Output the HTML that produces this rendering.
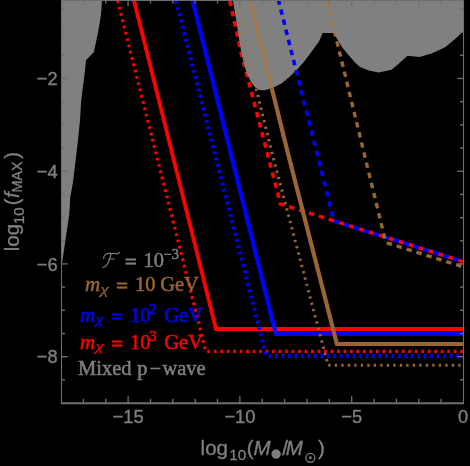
<!DOCTYPE html>
<html><head><meta charset="utf-8"><title>plot</title>
<style>html,body{margin:0;padding:0;background:#000;}svg{display:block;will-change:transform;}text{font-family:"Liberation Sans",sans-serif;}.sf{font-family:"Liberation Serif",serif;}</style></head>
<body>
<svg width="470" height="466" viewBox="0 0 470 466">
<rect x="0" y="0" width="470" height="466" fill="#000"/>
<defs><clipPath id="plot"><rect x="61" y="0" width="403" height="403"/></clipPath>
<clipPath id="gclip"><polygon points="232.9,0.0 237.7,30.0 240.9,50.0 243.5,62.0 246.7,73.2 251.2,82.2 255.1,87.3 259.6,89.9 264.8,90.2 272.5,88.0 281.5,83.5 290.0,76.4 299.0,67.5 305.0,60.5 310.4,53.3 319.0,41.5 322.7,33.0 334.0,33.0 337.2,39.3 342.6,47.9 347.9,54.3 355.0,62.4 360.0,67.0 368.7,70.6 378.6,72.5 391.5,69.7 397.9,64.4 407.6,55.8 419.4,56.9 432.2,53.2 445.1,47.2 455.8,38.6 463.5,31.0 464.0,31.0 464.0,0.0"/></clipPath>
<clipPath id="nogray"><path clip-rule="evenodd" d="M0,-5H470V470H0Z M232.9,0.0 L237.7,30.0 L240.9,50.0 L243.5,62.0 L246.7,73.2 L251.2,82.2 L255.1,87.3 L259.6,89.9 L264.8,90.2 L272.5,88.0 L281.5,83.5 L290.0,76.4 L299.0,67.5 L305.0,60.5 L310.4,53.3 L319.0,41.5 L322.7,33.0 L334.0,33.0 L337.2,39.3 L342.6,47.9 L347.9,54.3 L355.0,62.4 L360.0,67.0 L368.7,70.6 L378.6,72.5 L391.5,69.7 L397.9,64.4 L407.6,55.8 L419.4,56.9 L432.2,53.2 L445.1,47.2 L455.8,38.6 L463.5,31.0 L464.0,31.0 L464.0,0.0Z"/></clipPath></defs>
<polygon points="61.0,0.0 102.0,0.0 101.3,11.6 100.3,19.3 98.1,32.2 95.9,42.5 94.0,51.5 93.6,52.6 86.3,59.7 85.9,61.6 84.4,75.7 82.7,88.6 81.1,101.5 80.1,119.3 78.2,138.6 75.3,162.9 73.0,182.2 70.2,197.6 69.4,212.9 66.6,232.2 63.8,251.5 62.5,260.0 61.5,266.0 61.0,266.0" fill="#808080"/>
<g clip-path="url(#plot)" fill="none" stroke-linejoin="miter">
<polyline points="133.6,-1.0 216.0,329.0 470.0,329.0" stroke="#ff0000" stroke-width="3.8"/>
<polyline points="117.2,-1.0 205.8,351.4 463.5,351.4" stroke="#ff0000" stroke-width="3.2" stroke-dasharray="2.7 3.786" stroke-dashoffset="-1.6"/>
<polyline points="229.4,-1.0 241.5,54.0 280.5,204.0 463.5,261.8" stroke="#ff0000" stroke-width="3.6" stroke-dasharray="5.5 4.9" stroke-dashoffset="8.5"/>
<polygon points="232.9,0.0 237.7,30.0 240.9,50.0 243.5,62.0 246.7,73.2 251.2,82.2 255.1,87.3 259.6,89.9 264.8,90.2 272.5,88.0 281.5,83.5 290.0,76.4 299.0,67.5 305.0,60.5 310.4,53.3 319.0,41.5 322.7,33.0 334.0,33.0 337.2,39.3 342.6,47.9 347.9,54.3 355.0,62.4 360.0,67.0 368.7,70.6 378.6,72.5 391.5,69.7 397.9,64.4 407.6,55.8 419.4,56.9 432.2,53.2 445.1,47.2 455.8,38.6 463.5,31.0 464.0,31.0 464.0,0.0" fill="#808080"/>
<polyline points="192.2,-1.0 275.8,333.8 470.0,333.8" stroke="#0000ff" stroke-width="4.2"/>
<polyline points="175.5,-1.0 266.3,356.1 463.5,356.1" stroke="#0000ff" stroke-width="4.1" stroke-dasharray="2.6 3.868" stroke-dashoffset="-2.1"/>
<polyline points="278.2,-1.0 334.0,221.0 463.5,261.8" stroke="#0000ff" stroke-width="3.6" stroke-dasharray="5.5 4.9" stroke-dashoffset="10.0"/>
<g clip-path="url(#nogray)">
<polyline points="249.6,-1.0 287.6,152.0 336.9,344.0 470.0,344.0" stroke="#996633" stroke-width="4.2"/>
<polyline points="235.6,-1.0 240.1,19.7 253.3,77.0 272.0,153.0 328.1,365.3 461.0,365.3" stroke="#996633" stroke-width="3.0" stroke-dasharray="2.3 4.2" stroke-dashoffset="-1"/>
<polyline points="326.6,-1.0 385.8,242.5 463.5,267.0" stroke="#996633" stroke-width="3.4" stroke-dasharray="5.5 4.9" stroke-dashoffset="8.5"/>
</g>
<g clip-path="url(#gclip)">
<polyline points="249.6,-1.0 287.6,152.0 336.9,344.0 470.0,344.0" stroke="#ab7841" stroke-width="2.7"/>
<polyline points="235.6,-1.0 240.1,19.7 253.3,77.0 272.0,153.0 328.1,365.3 461.0,365.3" stroke="#ab7841" stroke-width="1.9" stroke-dasharray="2.2 4.3" stroke-dashoffset="-1"/>
<polyline points="326.6,-1.0 385.8,242.5 463.5,267.0" stroke="#ab7841" stroke-width="2.5" stroke-dasharray="5.5 4.9" stroke-dashoffset="8.5"/>
</g>
</g>
<g stroke="#6e6e6e" fill="none">
<line x1="61.5" y1="0" x2="61.5" y2="404" stroke-width="1.1"/>
<line x1="463.5" y1="0" x2="463.5" y2="404" stroke-width="1.1"/>
<line x1="61" y1="403.2" x2="464" y2="403.2" stroke-width="2.1"/>
<line x1="61" y1="0.3" x2="464" y2="0.3" stroke-width="1.2"/>
<line x1="83.4" y1="403" x2="83.4" y2="398.8" stroke-width="1.35"/>
<line x1="83.4" y1="0" x2="83.4" y2="3.4" stroke-width="1.35"/>
<line x1="105.7" y1="403" x2="105.7" y2="398.8" stroke-width="1.35"/>
<line x1="105.7" y1="0" x2="105.7" y2="3.4" stroke-width="1.35"/>
<line x1="128.1" y1="403" x2="128.1" y2="396.2" stroke-width="1.35"/>
<line x1="128.1" y1="0" x2="128.1" y2="6.0" stroke-width="1.35"/>
<line x1="150.5" y1="403" x2="150.5" y2="398.8" stroke-width="1.35"/>
<line x1="150.5" y1="0" x2="150.5" y2="3.4" stroke-width="1.35"/>
<line x1="172.8" y1="403" x2="172.8" y2="398.8" stroke-width="1.35"/>
<line x1="172.8" y1="0" x2="172.8" y2="3.4" stroke-width="1.35"/>
<line x1="195.2" y1="403" x2="195.2" y2="398.8" stroke-width="1.35"/>
<line x1="195.2" y1="0" x2="195.2" y2="3.4" stroke-width="1.35"/>
<line x1="217.5" y1="403" x2="217.5" y2="398.8" stroke-width="1.35"/>
<line x1="217.5" y1="0" x2="217.5" y2="3.4" stroke-width="1.35"/>
<line x1="239.9" y1="403" x2="239.9" y2="396.2" stroke-width="1.35"/>
<line x1="239.9" y1="0" x2="239.9" y2="6.0" stroke-width="1.35"/>
<line x1="262.3" y1="403" x2="262.3" y2="398.8" stroke-width="1.35"/>
<line x1="262.3" y1="0" x2="262.3" y2="3.4" stroke-width="1.35"/>
<line x1="284.6" y1="403" x2="284.6" y2="398.8" stroke-width="1.35"/>
<line x1="284.6" y1="0" x2="284.6" y2="3.4" stroke-width="1.35"/>
<line x1="307.0" y1="403" x2="307.0" y2="398.8" stroke-width="1.35"/>
<line x1="307.0" y1="0" x2="307.0" y2="3.4" stroke-width="1.35"/>
<line x1="329.3" y1="403" x2="329.3" y2="398.8" stroke-width="1.35"/>
<line x1="329.3" y1="0" x2="329.3" y2="3.4" stroke-width="1.35"/>
<line x1="351.7" y1="403" x2="351.7" y2="396.2" stroke-width="1.35"/>
<line x1="351.7" y1="0" x2="351.7" y2="6.0" stroke-width="1.35"/>
<line x1="374.1" y1="403" x2="374.1" y2="398.8" stroke-width="1.35"/>
<line x1="374.1" y1="0" x2="374.1" y2="3.4" stroke-width="1.35"/>
<line x1="396.4" y1="403" x2="396.4" y2="398.8" stroke-width="1.35"/>
<line x1="396.4" y1="0" x2="396.4" y2="3.4" stroke-width="1.35"/>
<line x1="418.8" y1="403" x2="418.8" y2="398.8" stroke-width="1.35"/>
<line x1="418.8" y1="0" x2="418.8" y2="3.4" stroke-width="1.35"/>
<line x1="441.1" y1="403" x2="441.1" y2="398.8" stroke-width="1.35"/>
<line x1="441.1" y1="0" x2="441.1" y2="3.4" stroke-width="1.35"/>
<line x1="61" y1="9.0" x2="65.0" y2="9.0" stroke-width="1.35"/>
<line x1="464" y1="9.0" x2="460.0" y2="9.0" stroke-width="1.35"/>
<line x1="61" y1="32.1" x2="65.0" y2="32.1" stroke-width="1.35"/>
<line x1="464" y1="32.1" x2="460.0" y2="32.1" stroke-width="1.35"/>
<line x1="61" y1="55.3" x2="65.0" y2="55.3" stroke-width="1.35"/>
<line x1="464" y1="55.3" x2="460.0" y2="55.3" stroke-width="1.35"/>
<line x1="61" y1="78.5" x2="67.6" y2="78.5" stroke-width="1.35"/>
<line x1="464" y1="78.5" x2="457.4" y2="78.5" stroke-width="1.35"/>
<line x1="61" y1="101.7" x2="65.0" y2="101.7" stroke-width="1.35"/>
<line x1="464" y1="101.7" x2="460.0" y2="101.7" stroke-width="1.35"/>
<line x1="61" y1="124.9" x2="65.0" y2="124.9" stroke-width="1.35"/>
<line x1="464" y1="124.9" x2="460.0" y2="124.9" stroke-width="1.35"/>
<line x1="61" y1="148.0" x2="65.0" y2="148.0" stroke-width="1.35"/>
<line x1="464" y1="148.0" x2="460.0" y2="148.0" stroke-width="1.35"/>
<line x1="61" y1="171.2" x2="67.6" y2="171.2" stroke-width="1.35"/>
<line x1="464" y1="171.2" x2="457.4" y2="171.2" stroke-width="1.35"/>
<line x1="61" y1="194.4" x2="65.0" y2="194.4" stroke-width="1.35"/>
<line x1="464" y1="194.4" x2="460.0" y2="194.4" stroke-width="1.35"/>
<line x1="61" y1="217.6" x2="65.0" y2="217.6" stroke-width="1.35"/>
<line x1="464" y1="217.6" x2="460.0" y2="217.6" stroke-width="1.35"/>
<line x1="61" y1="240.8" x2="65.0" y2="240.8" stroke-width="1.35"/>
<line x1="464" y1="240.8" x2="460.0" y2="240.8" stroke-width="1.35"/>
<line x1="61" y1="263.9" x2="67.6" y2="263.9" stroke-width="1.35"/>
<line x1="464" y1="263.9" x2="457.4" y2="263.9" stroke-width="1.35"/>
<line x1="61" y1="287.1" x2="65.0" y2="287.1" stroke-width="1.35"/>
<line x1="464" y1="287.1" x2="460.0" y2="287.1" stroke-width="1.35"/>
<line x1="61" y1="310.3" x2="65.0" y2="310.3" stroke-width="1.35"/>
<line x1="464" y1="310.3" x2="460.0" y2="310.3" stroke-width="1.35"/>
<line x1="61" y1="333.5" x2="65.0" y2="333.5" stroke-width="1.35"/>
<line x1="464" y1="333.5" x2="460.0" y2="333.5" stroke-width="1.35"/>
<line x1="61" y1="356.7" x2="67.6" y2="356.7" stroke-width="1.35"/>
<line x1="464" y1="356.7" x2="457.4" y2="356.7" stroke-width="1.35"/>
<line x1="61" y1="379.8" x2="65.0" y2="379.8" stroke-width="1.35"/>
<line x1="464" y1="379.8" x2="460.0" y2="379.8" stroke-width="1.35"/>
</g>
<g fill="#7f7f7f" stroke="#7f7f7f" stroke-width="0.35" font-size="18.3px">
<text x="57.6" y="85.1" text-anchor="end">−2</text>
<text x="57.6" y="177.8" text-anchor="end">−4</text>
<text x="57.6" y="270.5" text-anchor="end">−6</text>
<text x="57.6" y="363.3" text-anchor="end">−8</text>
<text x="128.1" y="423.2" text-anchor="middle">−15</text>
<text x="239.9" y="423.2" text-anchor="middle">−10</text>
<text x="351.7" y="423.2" text-anchor="middle">−5</text>
<text x="463.0" y="423.2" text-anchor="middle">0</text>
</g>
<g fill="#7f7f7f" stroke="#7f7f7f" stroke-width="0.35">
<text x="200.6" y="454.9" font-size="20.5px">log</text>
<text x="229.2" y="460" font-size="15.2px">10</text>
<text x="246.8" y="454.9" font-size="20.5px">(</text>
<text x="253.4" y="454.9" font-size="20.5px" font-style="italic">M</text>
<circle cx="276.1" cy="454" r="4.5"/>
<text x="282.2" y="454.9" font-size="20.5px">/</text>
<text x="285.8" y="454.9" font-size="20.5px" font-style="italic">M</text>
<circle cx="310.4" cy="457.8" r="4.5" fill="none" stroke="#7f7f7f" stroke-width="1.3"/><circle cx="310.4" cy="457.8" r="1.3"/>
<text x="318" y="454.9" font-size="20.5px">)</text>
</g>
<g fill="#7f7f7f" stroke="#7f7f7f" stroke-width="0.35" transform="translate(0,250) rotate(-90)">
<text x="-1.2" y="18.7" font-size="20.5px">log</text>
<text x="25.8" y="23.8" font-size="15.2px">10</text>
<text x="44.8" y="18.7" font-size="20.5px">(</text>
<text x="51.9" y="18.7" font-size="20.5px" font-style="italic">f</text>
<text x="57.6" y="21.9" font-size="14.3px">MAX</text>
<text x="91.3" y="18.7" font-size="20.5px">)</text>
</g>
<g fill="#7f7f7f" stroke="#7f7f7f" stroke-width="0.5">
<path d="M103.8,259 C103,256 105.5,253.3 109,253.3 L117.5,253.6 Q119,253.4 119.9,252.2 M111.2,253.5 C110,258 108.5,263 106.5,265.3 C105,267 103.5,267.6 102.2,267.5 M108.5,259 L115,259" fill="none" stroke-width="1.1"/>
<text class="sf" x="124.9" y="268.5" font-size="20.5px" stroke-width="0.9">=</text>
<text class="sf" x="143.6" y="266.5" font-size="20.5px">10</text>
<text class="sf" x="163.5" y="258.5" font-size="14.5px">−3</text>
</g>
<g fill="#996633" stroke="#996633" stroke-width="0.5">
<text class="sf" x="84.9" y="291" font-size="20.5px" font-style="italic" textLength="15.2" lengthAdjust="spacingAndGlyphs">m</text>
<text class="sf" x="100.2" y="293.6" font-size="13.8px" font-style="italic" textLength="8.6" lengthAdjust="spacingAndGlyphs" stroke-width="0.15">χ</text>
<text class="sf" x="116.2" y="293" font-size="20.5px" stroke-width="0.9">=</text>
<text class="sf" x="134.9" y="291" font-size="20.5px">10</text>
<text class="sf" x="160.2" y="291" font-size="20.5px">GeV</text>
</g>
<g fill="#0000ff" stroke="#0000ff" stroke-width="0.5">
<text class="sf" x="80" y="321.5" font-size="20.5px" font-style="italic" textLength="15.2" lengthAdjust="spacingAndGlyphs">m</text>
<text class="sf" x="95.3" y="324.1" font-size="13.8px" font-style="italic" textLength="8.6" lengthAdjust="spacingAndGlyphs" stroke-width="0.15">χ</text>
<text class="sf" x="111.3" y="323.5" font-size="20.5px" stroke-width="0.9">=</text>
<text class="sf" x="130" y="321.5" font-size="20.5px">10</text>
<text class="sf" x="149.3" y="313.5" font-size="14.5px">2</text>
<text class="sf" x="164.2" y="321.5" font-size="20.5px">GeV</text>
</g>
<g fill="#ff0000" stroke="#ff0000" stroke-width="0.5">
<text class="sf" x="80" y="348.5" font-size="20.5px" font-style="italic" textLength="15.2" lengthAdjust="spacingAndGlyphs">m</text>
<text class="sf" x="95.3" y="351.1" font-size="13.8px" font-style="italic" textLength="8.6" lengthAdjust="spacingAndGlyphs" stroke-width="0.15">χ</text>
<text class="sf" x="111.3" y="350.5" font-size="20.5px" stroke-width="0.9">=</text>
<text class="sf" x="130" y="348.5" font-size="20.5px">10</text>
<text class="sf" x="149.3" y="340.5" font-size="14.5px">3</text>
<text class="sf" x="164.2" y="348.5" font-size="20.5px">GeV</text>
</g>
<g fill="#7f7f7f" stroke="#7f7f7f" stroke-width="0.5">
<text class="sf" x="78" y="375.2" font-size="20.5px">Mixed</text>
<text class="sf" x="137.3" y="375.2" font-size="20.5px">p</text>
<text class="sf" x="149.4" y="375.2" font-size="20.5px">−</text>
<text class="sf" x="162.4" y="375.2" font-size="20.5px">wave</text>
</g>
</svg></body></html>
